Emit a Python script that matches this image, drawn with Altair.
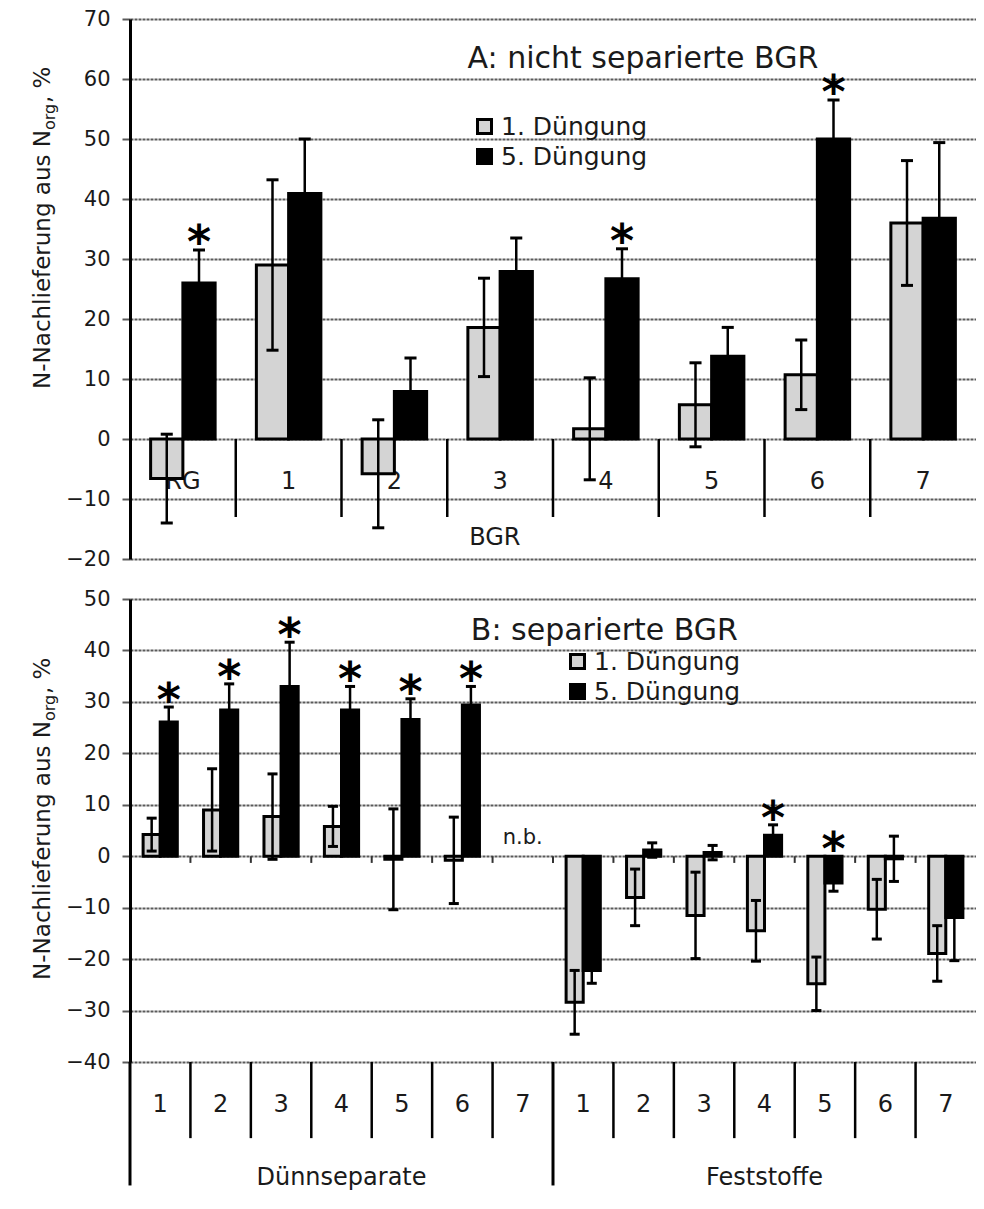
import altair as alt
import pandas as pd

FONT = "DejaVu Sans"
INK = "#1a1a1a"
GRID = "#5a5a5a"

SERIES = ["1. Düngung", "5. Düngung"]
FILLS = ["#d4d4d4", "#000000"]

# ---------------- Panel A: nicht separierte BGR ----------------
a_cats = ["RG", "1", "2", "3", "4", "5", "6", "7"]
a_first = [-6.6, 29.0, -5.8, 18.6, 1.7, 5.7, 10.7, 36.0]
a_first_err = [7.4, 14.2, 9.0, 8.2, 8.5, 7.0, 5.8, 10.4]
a_fifth = [26.0, 40.9, 7.9, 27.9, 26.7, 13.8, 50.0, 36.8]
a_fifth_err = [5.5, 9.1, 5.6, 5.6, 5.0, 4.8, 6.5, 12.6]
a_star = [True, False, False, False, True, False, True, False]
a_ticks = [70, 60, 50, 40, 30, 20, 10, 0, -10, -20]

# ---------------- Panel B: separierte BGR ----------------
b_groups = ["Dünnseparate", "Feststoffe"]
b_cats = ["1", "2", "3", "4", "5", "6", "7", "1", "2", "3", "4", "5", "6", "7"]
b_first = [4.2, 9.0, 7.7, 5.8, -0.6, -0.8, None, -28.4, -8.0, -11.5, -14.5, -24.8, -10.3, -18.9]
b_first_err = [3.2, 8.0, 8.3, 3.9, 9.8, 8.4, None, 6.2, 5.5, 8.4, 5.9, 5.2, 5.8, 5.4]
b_fifth = [26.1, 28.4, 33.0, 28.4, 26.6, 29.4, None, -22.2, 1.2, 0.7, 4.1, -5.2, -0.5, -11.9]
b_fifth_err = [2.9, 5.1, 8.6, 4.6, 4.0, 3.6, None, 2.5, 1.4, 1.4, 2.0, 1.6, 4.4, 8.4]
b_star = [True, True, True, True, True, True, False, False, False, False, True, True, False, False]
b_nb = "n.b."
b_ticks = [50, 40, 30, 20, 10, 0, -10, -20, -30, -40]

W = 846


def bars_frame(first, first_err, fifth, fifth_err, half):
    rows = []
    for i in range(len(first)):
        for s, (vals, errs) in enumerate(((first, first_err), (fifth, fifth_err))):
            v = vals[i]
            if v is None:
                continue
            x0 = i + 0.5 - half + s * half
            e = errs[i]
            rows.append({"series": SERIES[s], "x0": x0, "x1": x0 + half,
                         "xc": x0 + half / 2, "v": v, "base": 0.0,
                         "lo": v - e, "hi": v + e, "idx": i, "s": s})
    return pd.DataFrame(rows)


def caps_frame(bars, cap):
    rows = []
    for _, r in bars.iterrows():
        for yv in (r["lo"], r["hi"]):
            rows.append({"cl": r["xc"] - cap, "cr": r["xc"] + cap, "y": yv})
    return pd.DataFrame(rows)


def stars_frame(bars, stars):
    rows = []
    for _, r in bars.iterrows():
        if r["s"] == 1 and stars[int(r["idx"])]:
            rows.append({"xc": r["xc"], "y": max(0.0, r["hi"])})
    return pd.DataFrame(rows)


def y_axis(vals):
    return alt.Axis(values=vals, title=None, grid=True, gridColor=GRID,
                    gridWidth=2, gridDash=[3, 1], domainColor="black",
                    domainWidth=3, tickColor=GRID, tickWidth=2, tickSize=8,
                    labelFont=FONT, labelFontSize=21, labelColor=INK,
                    labelPadding=12, labelOverlap=False, labelFlush=False,
                    format="d")


def legend(lx, ly):
    return alt.Legend(orient="none", legendX=lx, legendY=ly, title=None,
                      direction="vertical", symbolType="square",
                      symbolSize=196, symbolStrokeColor="black",
                      symbolStrokeWidth=3, labelFont=FONT,
                      labelFontSize=25, labelColor=INK, rowPadding=3,
                      labelOffset=4, padding=0)


def ytitle_layers(p):
    df = pd.DataFrame({"t": ["N-Nachlieferung aus N", "org", ", %"]})
    base = dict(angle=270, baseline="middle", font=FONT, color=INK)
    t1 = alt.Chart(df.iloc[[0]]).mark_text(align="right", fontSize=23, **base).encode(
        x=alt.value(-87), y=alt.value(p), text="t:N")
    t2 = alt.Chart(df.iloc[[1]]).mark_text(align="left", fontSize=16, **base).encode(
        x=alt.value(-80), y=alt.value(p), text="t:N")
    t3 = alt.Chart(df.iloc[[2]]).mark_text(align="left", fontSize=23, **base).encode(
        x=alt.value(-87), y=alt.value(p - 27), text="t:N")
    return [t1, t2, t3]


def panel(cats, first, first_err, fifth, fifth_err, stars, *, ydom, yvals,
          height, half, cap, star_dy, legend_xy, ytitle_p, deco):
    n = len(cats)
    xs = alt.Scale(domain=[0, n], nice=False, zero=False)
    ys = alt.Scale(domain=ydom, nice=False, zero=False)
    yax = y_axis(yvals)

    def X(f):
        return alt.X(f, scale=xs, axis=None)

    def Y(f):
        return alt.Y(f, scale=ys, axis=yax)

    bars = bars_frame(first, first_err, fifth, fifth_err, half)
    caps = caps_frame(bars, cap)
    st = stars_frame(bars, stars)

    bar_layer = alt.Chart(bars).mark_bar(stroke="black", strokeWidth=3).encode(
        x=X("x0:Q"), x2="x1:Q", y=Y("v:Q"), y2="base:Q",
        fill=alt.Fill("series:N", scale=alt.Scale(domain=SERIES, range=FILLS),
                      legend=legend(*legend_xy)))
    err_layer = alt.Chart(bars).mark_rule(color="black", strokeWidth=2.5).encode(
        x=X("xc:Q"), y=Y("lo:Q"), y2="hi:Q")
    cap_layer = alt.Chart(caps).mark_rule(color="black", strokeWidth=3).encode(
        x=X("cl:Q"), x2="cr:Q", y=Y("y:Q"))
    star_layer = alt.Chart(st).mark_text(text="*", font=FONT, fontWeight="bold",
                                         fontSize=46, baseline="alphabetic",
                                         dy=star_dy, color="black").encode(
        x=X("xc:Q"), y=Y("y:Q"))

    back = deco(X, Y)
    layers = back + [bar_layer, err_layer, cap_layer, star_layer] + ytitle_layers(ytitle_p)
    return alt.layer(*layers).properties(width=W, height=height)


def text_layer(df, X, Y, size):
    return alt.Chart(df).mark_text(font=FONT, fontSize=size, color=INK,
                                   baseline="middle").encode(
        x=X("x:Q"), y=Y("y:Q"), text="t:N")


def deco_a(X, Y):
    n = len(a_cats)
    lab = pd.DataFrame({"x": [i + 0.5 for i in range(n)], "y": [-7.2] * n, "t": a_cats})
    div = pd.DataFrame({"x": list(range(1, n)), "y1": [0.0] * (n - 1), "y2": [-13.0] * (n - 1)})
    dividers = alt.Chart(div).mark_rule(color="black", strokeWidth=2.5).encode(
        x=X("x:Q"), y=Y("y1:Q"), y2="y2:Q")
    bgr = pd.DataFrame({"x": [3.45], "y": [-16.5], "t": ["BGR"]})
    title = pd.DataFrame({"x": [4.85], "y": [63.3], "t": ["A: nicht separierte BGR"]})
    return [text_layer(lab, X, Y, 24), dividers, text_layer(bgr, X, Y, 24),
            text_layer(title, X, Y, 30)]


def deco_b(X, Y):
    n = len(b_cats)
    lab = pd.DataFrame({"x": [i + 0.5 for i in range(n)], "y": [-48.4] * n, "t": b_cats})
    inner = [i for i in range(1, n) if i != 7]
    div = pd.DataFrame({"x": inner, "y1": [-40.0] * len(inner), "y2": [-54.8] * len(inner)})
    gdiv = pd.DataFrame({"x": [0, 7], "y1": [-40.0, -40.0], "y2": [-64.0, -64.0]})
    zt = pd.DataFrame({"x": list(range(1, n)), "y1": [0.0] * (n - 1), "y2": [-1.3] * (n - 1)})
    grp = pd.DataFrame({"x": [3.5, 10.5], "y": [-62.5, -62.5], "t": b_groups})
    dividers = alt.Chart(div).mark_rule(color="black", strokeWidth=2.5).encode(
        x=X("x:Q"), y=Y("y1:Q"), y2="y2:Q")
    gdividers = alt.Chart(gdiv).mark_rule(color="black", strokeWidth=3).encode(
        x=X("x:Q"), y=Y("y1:Q"), y2="y2:Q")
    zticks = alt.Chart(zt).mark_rule(color="#333333", strokeWidth=2).encode(
        x=X("x:Q"), y=Y("y1:Q"), y2="y2:Q")
    nb = pd.DataFrame({"x": [6.5], "y": [3.6], "t": [b_nb]})
    title = pd.DataFrame({"x": [7.85], "y": [43.8], "t": ["B: separierte BGR"]})
    return [text_layer(lab, X, Y, 24), dividers, gdividers, zticks,
            text_layer(grp, X, Y, 24), text_layer(nb, X, Y, 21),
            text_layer(title, X, Y, 30)]


top = panel(a_cats, a_first, a_first_err, a_fifth, a_fifth_err, a_star,
            ydom=[-20, 70], yvals=a_ticks, height=540, half=0.305, cap=0.057,
            star_dy=8, legend_xy=(342, 95), ytitle_p=111, deco=deco_a)

bottom = panel(b_cats, b_first, b_first_err, b_fifth, b_fifth_err, b_star,
               ydom=[-40, 50], yvals=b_ticks, height=463, half=0.283, cap=0.083,
               star_dy=9, legend_xy=(435, 50), ytitle_p=122, deco=deco_b)

chart = alt.vconcat(top, bottom, spacing=40, bounds="flush").resolve_scale(
    x="independent", y="independent", fill="independent"
).resolve_legend(fill="independent").properties(
    padding={"left": 24, "top": 0, "right": 0, "bottom": 0},
    background="white",
).configure_view(stroke=None)

chart.save("out.html", embed_options={"renderer": "svg", "actions": False})
